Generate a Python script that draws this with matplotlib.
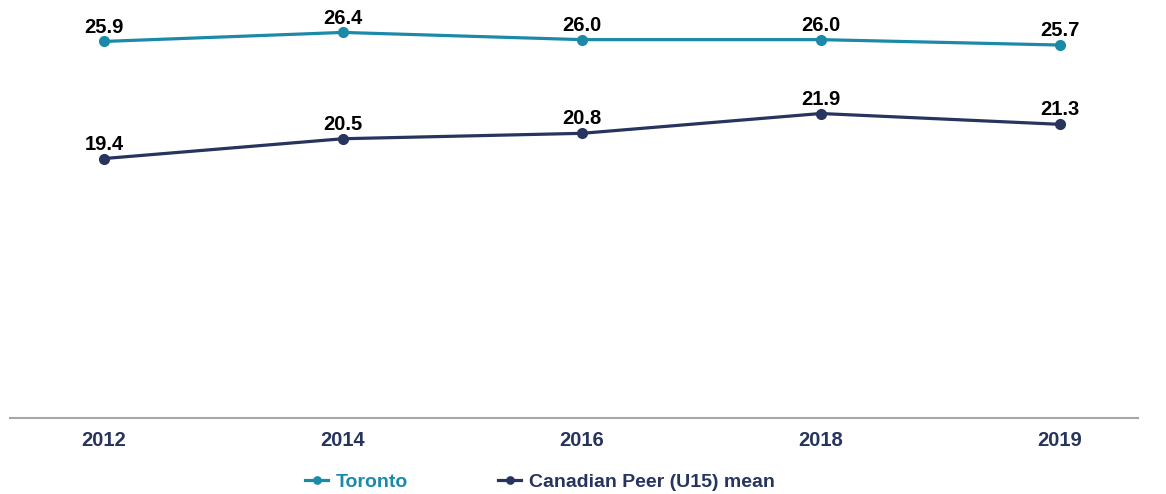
import matplotlib
matplotlib.use("Agg")
import matplotlib.pyplot as plt

years = ["2012", "2014", "2016", "2018", "2019"]
toronto = [25.9, 26.4, 26.0, 26.0, 25.7]
peer = [19.4, 20.5, 20.8, 21.9, 21.3]

teal = "#1a8aa8"
navy = "#26345e"

plt.rcParams['font.family'] = ['Liberation Sans', 'DejaVu Sans']

fig = plt.figure(figsize=(11.66, 4.94), dpi=100)
ax = fig.add_axes([10/1166, 76/494, 1128/1166, 418/494])

x = list(range(len(years)))
ax.plot(x, toronto, color=teal, lw=2.3, marker='o', ms=7, label='Toronto')
ax.plot(x, peer, color=navy, lw=2.3, marker='o', ms=7, label='Canadian Peer (U15) mean')

for series in (toronto, peer):
    for xi, v in zip(x, series):
        ax.annotate(f"{v:.1f}", (xi, v), xytext=(0, 3.5), textcoords='offset points',
                    ha='center', va='bottom', fontsize=14.5, fontweight='bold',
                    color='black')

ax.set_xlim(-0.393, 4.327)
ax.set_ylim(5.0, 28.2)
ax.set_xticks(x)
ax.set_xticklabels(years, fontsize=14.5, fontweight='bold', color=navy)
ax.set_yticks([])
ax.tick_params(axis='x', length=0, pad=9)
for s in ['top', 'right', 'left']:
    ax.spines[s].set_visible(False)
ax.spines['bottom'].set_color('#a6a6a6')
ax.spines['bottom'].set_linewidth(1.5)

leg = fig.legend(loc='center', bbox_to_anchor=(540/1166, 1 - 482/494), ncol=2,
                 frameon=False, handlelength=1.2, handletextpad=0.4,
                 columnspacing=4.6, markerscale=0.75,
                 prop={'weight': 'bold', 'size': 14})
for t, c in zip(leg.get_texts(), [teal, navy]):
    t.set_color(c)

fig.savefig("out.png", dpi=100)
